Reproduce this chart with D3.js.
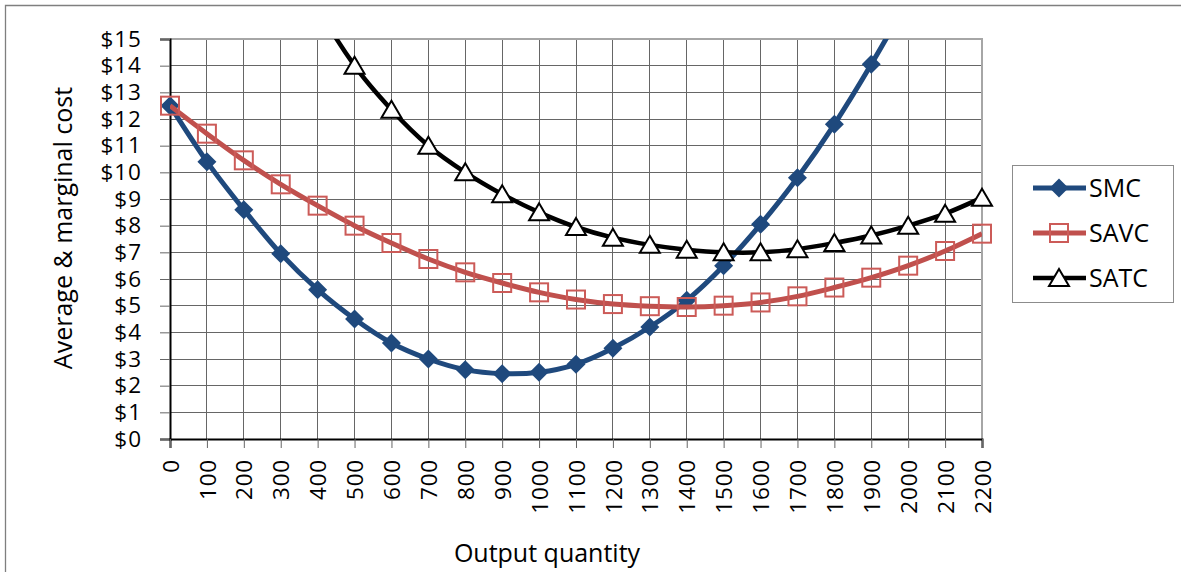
<!DOCTYPE html>
<html>
<head>
<meta charset="utf-8">
<script src="https://cdn.jsdelivr.net/npm/d3@7"></script>
<style>
  body { margin: 0; background: #fff; }
  svg { display: block; font-family: "Open Sans", sans-serif; }
</style>
</head>
<body>
<svg id="chart" width="1181" height="572"></svg>
<script>
// output levels and cost curves
const quantity = [0, 100, 200, 300, 400, 500, 600, 700, 800, 900, 1000, 1100,
  1200, 1300, 1400, 1500, 1600, 1700, 1800, 1900, 2000, 2100, 2200];
const smc = [12.5, 10.4, 8.6, 6.95, 5.6, 4.5, 3.6, 3.0, 2.6, 2.45, 2.5, 2.8,
  3.4, 4.2, 5.2, 6.5, 8.05, 9.8, 11.8, 14.05, 16.5, 19.2, 22.1];
const savc = [12.5, 11.45, 10.45, 9.55, 8.75, 8.0, 7.35, 6.75, 6.25, 5.85, 5.5, 5.23,
  5.06, 4.98, 4.95, 5.0, 5.12, 5.35, 5.68, 6.05, 6.5, 7.05, 7.7];
const satc = [null, null, null, 19.6, 16.25, 14.0, 12.35, 11.0, 10.0, 9.18, 8.5, 7.95,
  7.55, 7.28, 7.1, 7.0, 7.0, 7.12, 7.35, 7.63, 8.0, 8.45, 9.05];
const seriesNames = ["SMC", "SAVC", "SATC"];
const yTicks = d3.range(0, 16);

const svg = d3.select("#chart");
const plotL = 170, plotR = 982, plotT = 39, plotB = 439;

const x = d3.scaleLinear().domain([0, 2200]).range([plotL, plotR]);
const y = d3.scaleLinear().domain([0, 15]).range([plotB, plotT]);

// outer chart frame (only top and left edges show)
svg.append("path").attr("d", "M5.5,572 V5.5 H1181")
  .attr("fill", "none").attr("stroke", "#7f7f7f").attr("stroke-width", 1.3);

// grid
const grid = svg.append("g").attr("shape-rendering", "crispEdges");
grid.selectAll(".vg").data(quantity.slice(1)).enter().append("line")
  .attr("x1", d => x(d)).attr("x2", d => x(d)).attr("y1", plotT).attr("y2", plotB)
  .attr("stroke", "#666").attr("stroke-width", 1);
grid.selectAll(".hg").data(yTicks.slice(1)).enter().append("line")
  .attr("x1", plotL).attr("x2", plotR).attr("y1", d => y(d)).attr("y2", d => y(d))
  .attr("stroke", "#666").attr("stroke-width", 1);
// plot area border top/right
svg.append("path").attr("d", `M${plotL},${plotT} H${plotR} V${plotB}`)
  .attr("fill", "none").attr("stroke", "#a6a6a6").attr("stroke-width", 2);

// axes
const yAxis = svg.append("g").attr("transform", `translate(${plotL},0)`)
  .call(d3.axisLeft(y).tickValues(yTicks).tickSize(10).tickPadding(18).tickFormat(d => "$" + d));
yAxis.select(".domain").attr("stroke", "#000").attr("stroke-width", 2);
yAxis.selectAll(".tick line").attr("stroke", "#666");
yAxis.selectAll("text").attr("font-size", 22.5).attr("fill", "#000")
  .attr("font-family", "Open Sans").attr("letter-spacing", 1);

const xAxis = svg.append("g").attr("transform", `translate(0,${plotB})`)
  .call(d3.axisBottom(x).tickValues(quantity).tickSize(9).tickFormat(d3.format("d")));
xAxis.select(".domain").attr("stroke", "#000").attr("stroke-width", 2);
xAxis.selectAll(".tick line").attr("stroke", "#666");
xAxis.selectAll("text")
  .attr("font-size", 22.5).attr("fill", "#000").attr("font-family", "Open Sans")
  .attr("letter-spacing", 0.8)
  .attr("text-anchor", "end").attr("transform", "rotate(-90)")
  .attr("x", -20).attr("y", 0).attr("dy", "0.36em");

// axis titles
svg.append("text").attr("transform", "translate(72,228) rotate(-90)")
  .attr("text-anchor", "middle").attr("font-size", 25).attr("fill", "#000")
  .text("Average & marginal cost");
svg.append("text").attr("x", 547).attr("y", 562)
  .attr("text-anchor", "middle").attr("font-size", 25).attr("fill", "#000")
  .text("Output quantity");

// clip for the curves
svg.append("clipPath").attr("id", "plotClip").append("rect")
  .attr("x", plotL).attr("y", plotT).attr("width", plotR - plotL).attr("height", plotB - plotT);

const colors = { SMC: "#1f497d", SAVC: "#c0504d", SATC: "#000000" };
const values = { SMC: smc, SAVC: savc, SATC: satc };

const line = d3.line()
  .defined(d => d.v != null)
  .x(d => x(d.q)).y(d => y(d.v))
  .curve(d3.curveCardinal.tension(0));

const diamond = s => `M0,${-s}L${s},0L0,${s}L${-s},0Z`;
const triangle = "M0,-9L10,8H-10Z";

function drawMarker(g, name) {
  if (name === "SMC") {
    g.append("path").attr("d", diamond(9.5)).attr("fill", colors.SMC);
  } else if (name === "SAVC") {
    g.append("rect").attr("x", -9).attr("y", -9).attr("width", 18).attr("height", 18)
      .attr("fill", "none").attr("stroke", "#cc5b58").attr("stroke-width", 2);
  } else {
    g.append("path").attr("d", triangle).attr("fill", "#fff")
      .attr("stroke", "#000").attr("stroke-width", 2);
  }
}

seriesNames.forEach(name => {
  const pts = quantity.map((q, i) => ({ q, v: values[name][i] }));
  svg.append("path").datum(pts)
    .attr("clip-path", "url(#plotClip)")
    .attr("fill", "none").attr("stroke", colors[name])
    .attr("stroke-width", name === "SATC" ? 4.5 : 5)
    .attr("stroke-linejoin", "round")
    .attr("d", line);
  const inRange = pts.filter(d => d.v != null && d.v <= 15);
  svg.append("g").selectAll("g").data(inRange).enter().append("g")
    .attr("transform", d => `translate(${x(d.q)},${y(d.v)})`)
    .each(function () { drawMarker(d3.select(this), name); });
});

// legend
const legend = svg.append("g");
legend.append("rect").attr("x", 1012.5).attr("y", 165.5).attr("width", 161).attr("height", 137)
  .attr("fill", "#fff").attr("stroke", "#8c8c8c").attr("stroke-width", 1);
seriesNames.forEach((name, i) => {
  const ly = 188 + i * 45;
  const item = legend.append("g");
  item.append("line").attr("x1", 1033).attr("x2", 1086).attr("y1", ly).attr("y2", ly)
    .attr("stroke", colors[name]).attr("stroke-width", name === "SATC" ? 4.5 : 5);
  drawMarker(item.append("g").attr("transform", `translate(1059,${ly})`), name);
  item.append("text").attr("x", 1089).attr("y", ly).attr("dy", "0.36em")
    .attr("font-size", 25).attr("fill", "#000").text(name);
});
</script>
</body>
</html>
